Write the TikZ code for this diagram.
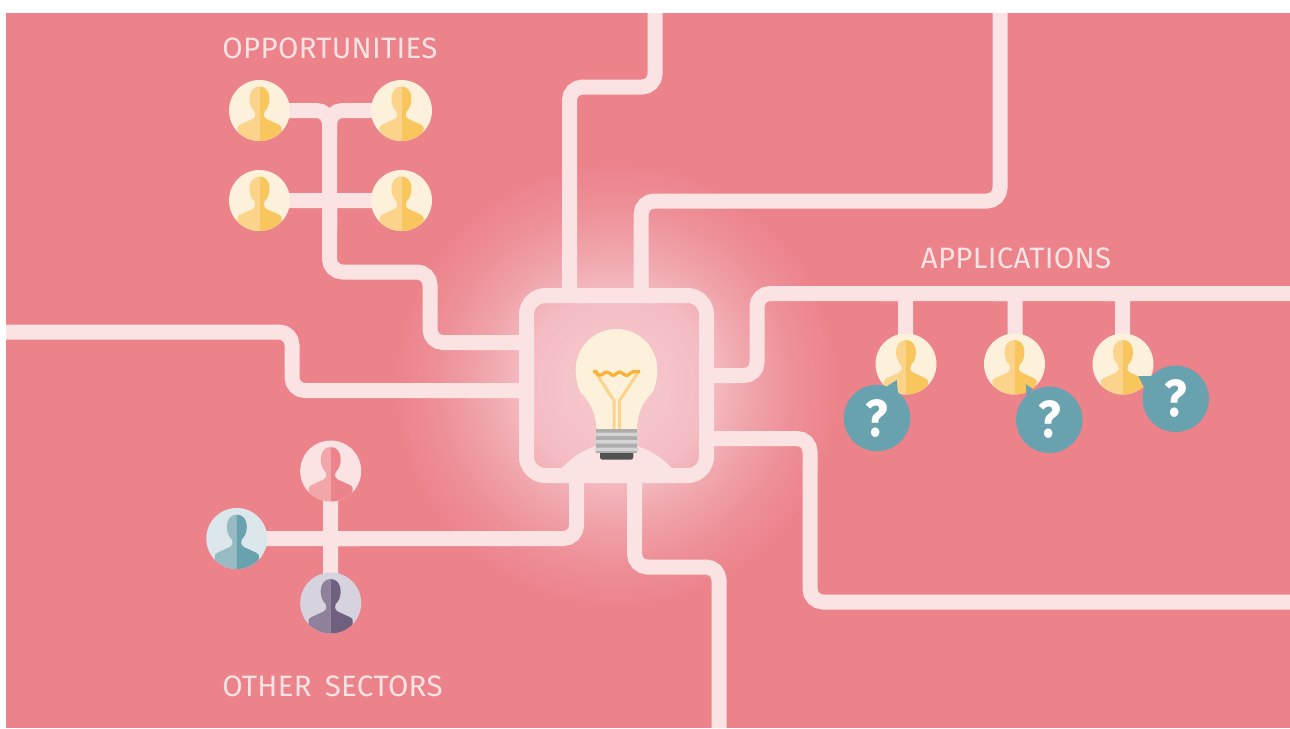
\documentclass[tikz,border=0pt]{standalone}
\usepackage{fontspec}
\newfontfamily\labfont[LetterSpace=1]{Fira Sans}
\newfontfamily\qfont[FakeStretch=0.9]{Fira Sans Bold}
\definecolor{bgpink}{HTML}{EC828A}
\definecolor{wirec}{HTML}{FBE3E3}
\definecolor{glowa}{HTML}{F6CBCF}
\definecolor{glowb}{HTML}{F4BDC3}
\definecolor{glowc}{HTML}{F0A4AB}
\definecolor{glowd}{HTML}{EE8F97}
\definecolor{yelbg}{HTML}{FDF1DC}
\definecolor{yell}{HTML}{FBD38A}
\definecolor{yeld}{HTML}{F9C55D}
\definecolor{filam}{HTML}{F9B233}
\definecolor{teal}{HTML}{68A2AF}
\definecolor{teallt}{HTML}{97BAC5}
\definecolor{tealbg}{HTML}{DCE7EC}
\definecolor{purbg}{HTML}{D6D2DE}
\definecolor{purl}{HTML}{8F8199}
\definecolor{purd}{HTML}{6F6080}
\definecolor{pinkl}{HTML}{F3A6AA}
\pgfdeclareradialshading{glow}{\pgfpoint{0bp}{0bp}}{color(0bp)=(glowa); color(10bp)=(glowb); color(15bp)=(glowc); color(20bp)=(glowd); color(25bp)=(bgpink); color(50bp)=(bgpink)}
\tikzset{
  wire/.style={draw=wirec,line width=15pt,rounded corners=13pt},
  twig/.style={draw=wirec,line width=15pt,rounded corners=6pt},
  lab/.style={text=wirec,font=\labfont\fontsize{29.5}{32}\selectfont,inner sep=0pt},
  qbubble/.style={circle,fill=teal,minimum size=66.4pt,inner sep=0pt,text=white,font=\qfont\fontsize{52}{52}\selectfont},
  avatar/.style={circle,minimum size=61pt,inner sep=0pt},
}
\newcommand{\persona}[6]{%
  \node[avatar,fill=#4] (#1) at (#2,#3) {};
  \begin{scope}[shift={(#2,#3)}]
    \clip (0,0) circle (30.5);
    \fill[#5] (0,-24) .. controls (-6,-24) and (-10,-19) .. (-10,-12) .. controls (-10,-6) and (-8,-2) .. (-5,1) .. controls (-3.5,3) and (-4,6.5) .. (-7,8.5) -- (-19,14) .. controls (-22,15.5) and (-23,18) .. (-22,20) .. controls (-22,24) .. (-20,31) -- (0,31) -- cycle;
    \fill[#6] (0,-24) .. controls (6,-24) and (10,-19) .. (10,-12) .. controls (10,-6) and (8,-2) .. (5,1) .. controls (3.5,3) and (4,6.5) .. (7,8.5) -- (19,14) .. controls (22,15.5) and (23,18) .. (22,20) .. controls (22,24) .. (20,31) -- (0,31) -- cycle;
  \end{scope}}
\begin{document}
\begin{tikzpicture}[x=1pt,y=-1pt]
\useasboundingbox (0,0) rectangle (1290,728);
\fill[white] (0,0) rectangle (1290,728);
\fill[bgpink] (6,13) rectangle (1290,728);
\shade[shading=glow] (616,385) circle (225);
% free ends
\coordinate (endA) at (655,13);
\coordinate (endB) at (1000,13);
\coordinate (endC) at (1290,293.5);
\coordinate (endD) at (1290,602);
\coordinate (endE) at (719,728);
\coordinate (endF) at (6,332);
% hub
\node[draw=wirec,line width=15pt,rounded corners=19pt,inner sep=0pt,outer sep=7.5pt,minimum size=180pt] (hub) at (616.5,385.5) {};
\coordinate (a1) at (259.5,110.5);
\coordinate (a2) at (401.5,110.5);
\coordinate (a3) at (259.5,200.5);
\coordinate (a4) at (401.5,200.5);
\coordinate (s1) at (330.5,471);
\coordinate (s2) at (236.8,538.5);
\coordinate (s3) at (330.5,603);
\coordinate (p1) at (905.5,364);
\coordinate (p2) at (1015.2,364);
\coordinate (p3) at (1122.5,364);
% connectors from hub
\draw[wire] (hub.north -| 569.5,0) -- (569.5,87) -- (655,87) -- (endA);
\draw[wire] (hub.north -| 641.2,0) -- (641.2,201) -- (1000,201) -- (endB);
\draw[wire] (hub.east |- 0,375.5) -- (757,375.5) -- (757,293.5) -- (endC);
\draw[wire] (hub.east |- 0,438.5) -- (810,438.5) -- (810,602) -- (endD);
\draw[wire] (hub.south -| 634.5,0) -- (634.5,567) -- (719,567) -- (endE);
\draw[wire] (hub.south -| 576.5,0) -- (576.5,538.5) -- (s2);
\draw[wire] (hub.west |- 0,390.5) -- (292,390.5) -- (292,332) -- (endF);
\draw[wire] (hub.west |- 0,342.5) -- (430,342.5) -- (430,272) -- (329.5,272) -- (329.5,110.5) -- (a1);
% branches
\draw[wire] (a2) -- (329.5,110.5) -- (329.5,140);
\draw[twig] (a3) -- (329.5,200.5) -- (329.5,230);
\draw[twig] (a4) -- (329.5,200.5) -- (329.5,230);
\draw[twig] (s1) -- (330.5,538.5) -- (360,538.5);
\draw[twig] (s3) -- (330.5,538.5) -- (360,538.5);
\draw[twig] (p1) -- (905.5,293.5) -- (880,293.5);
\draw[twig] (p2) -- (1015.2,293.5) -- (990,293.5);
\draw[twig] (p3) -- (1122.5,293.5) -- (1100,293.5);
% mound
\fill[wirec] (561,469) .. controls (575,453) and (595,443) .. (616.5,443) .. controls (638,443) and (658,453) .. (672.5,469) -- cycle;
% bulb glass
\fill[yelbg] (596.7,430) .. controls (595,410) and (590,402) .. (580,391.7) .. controls (577,385) and (575.7,376) .. (575.7,370) .. controls (575.7,347) and (594,329) .. (616.5,329) .. controls (639,329) and (657.3,347) .. (657.3,370) .. controls (657.3,376) and (656,385) .. (653,391.7) .. controls (643,402) and (638,410) .. (636.7,430) -- cycle;
% filament
\draw[yell,line width=3pt,line join=round] (594.5,371) -- (614,400.5) -- (614,429);
\draw[yell,line width=3pt,line join=round] (639,371) -- (619.5,400.5) -- (619.5,429);
\draw[filam,line width=3.2pt] (593,371.5) -- (596,371.5) .. controls (598,376) and (601,376) .. (603.5,373.5) .. controls (605.5,371.5) and (607.5,371.5) .. (610,373.5) .. controls (612,376) and (614,376) .. (616.5,373.5) .. controls (619,371.5) and (621,371.5) .. (623,373.5) .. controls (625,376) and (628,376) .. (630,373.5) .. controls (632,371.5) and (634,371.5) .. (637,371.5) -- (640,371.5);
% screw
\fill[black!68] (600,452) -- (633.3,452) -- (633.3,457) .. controls (633.3,459) and (632,459.5) .. (631,459.5) -- (602,459.5) .. controls (601,459.5) and (600,459) .. (600,457) -- cycle;
\fill[black!32] (596,428.5) rectangle (637.3,452.7);
\foreach \yy in {432.5,440,447.5}{\fill[black!17,rounded corners=1pt] (594.5,\yy) rectangle (638.7,\yy+3.6);}
% avatars
\persona{ava}{259.5}{110.5}{yelbg}{yell}{yeld}
\persona{avb}{401.5}{110.5}{yelbg}{yell}{yeld}
\persona{avc}{259.5}{200.5}{yelbg}{yell}{yeld}
\persona{avd}{401.5}{200.5}{yelbg}{yell}{yeld}
\persona{sa}{330.7}{471}{wirec}{pinkl}{bgpink}
\persona{sb}{236.8}{538.5}{tealbg}{teallt}{teal}
\persona{sc}{330.7}{603}{purbg}{purl}{purd}
\persona{pa}{906}{364}{yelbg}{yell}{yeld}
\persona{pb}{1014.5}{364}{yelbg}{yell}{yeld}
\persona{pc}{1123}{364}{yelbg}{yell}{yeld}
% bubbles
\node[qbubble] (qa) at (877,418) {?};
\node[qbubble] (qb) at (1049.3,419.8) {?};
\node[qbubble] (qc) at (1175.7,398.8) {?};
\fill[teal] (887.3,386) -- (896.7,380) -- (898,393) -- cycle;
\fill[teal] (1033,389) -- (1025.7,384.3) -- (1026.7,397) -- cycle;
\fill[teal] (1151.7,376) -- (1138.3,376) -- (1144,387.3) -- cycle;
% labels
\node[lab] (lopp) at (330,48.5) {OPPORTUNITIES};
\node[lab] (lapp) at (1016,258.5) {APPLICATIONS};
\node[lab] (loth) at (332.5,686.5) {OTHER\hspace{5pt} SECTORS};
\end{tikzpicture}
\end{document}
